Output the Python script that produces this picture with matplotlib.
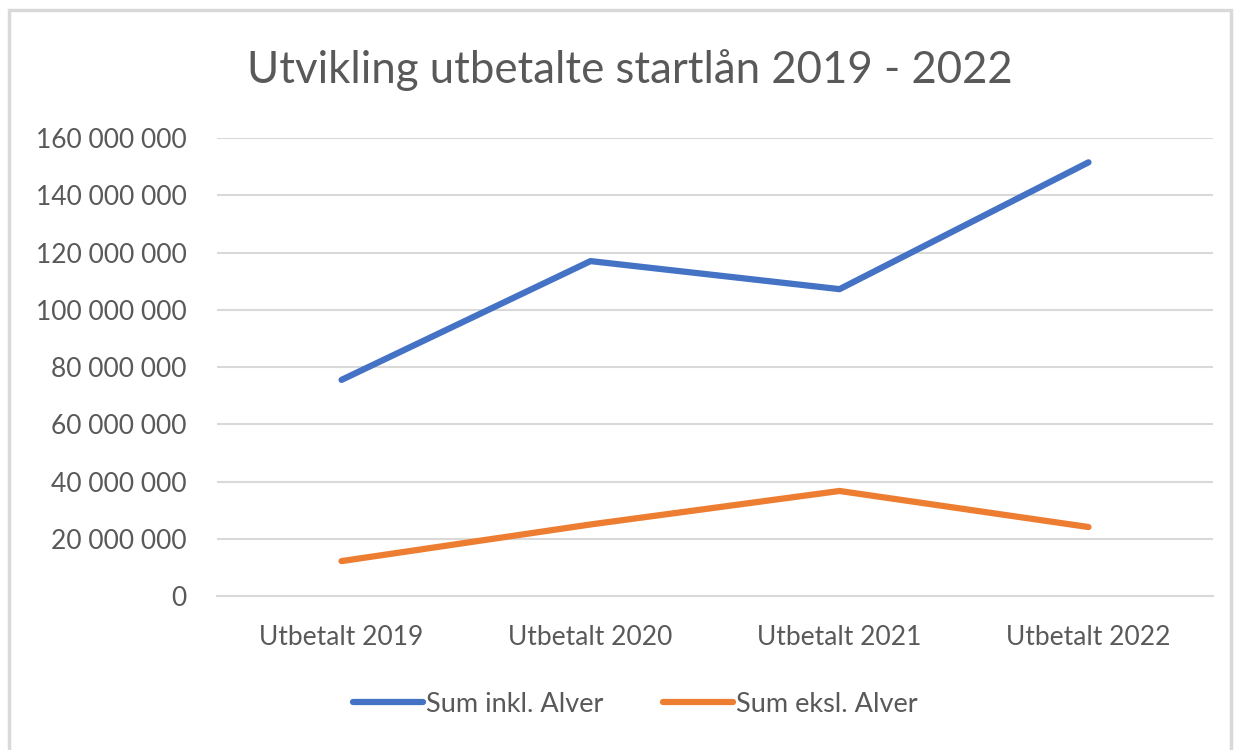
import matplotlib.pyplot as plt
from matplotlib.patches import Rectangle
from matplotlib.ticker import FuncFormatter

plt.rcParams['font.family'] = ['Lato', 'DejaVu Sans']

# data
kategorier = ['Utbetalt 2019', 'Utbetalt 2020', 'Utbetalt 2021', 'Utbetalt 2022']
sum_inkl_alver = [75500000, 117000000, 107200000, 151500000]
sum_eksl_alver = [12200000, 25000000, 36700000, 24100000]

blaa = '#4472C4'
oransje = '#ED7D31'
tekst = '#595959'

fig = plt.figure(figsize=(12.38, 7.5), dpi=100)
ax = fig.add_axes([0.1753, 0.2053, 0.8045, 0.6107])

x = range(len(kategorier))
ax.plot(x, sum_inkl_alver, color=blaa, lw=4.5, solid_capstyle='round',
        solid_joinstyle='round', label='Sum inkl. Alver')
ax.plot(x, sum_eksl_alver, color=oransje, lw=4.5, solid_capstyle='round',
        solid_joinstyle='round', label='Sum eksl. Alver')

ax.set_xlim(-0.5, len(kategorier) - 0.5)
ax.set_ylim(0, 160000000)
ax.set_yticks(range(0, 160000001, 20000000))
ax.yaxis.set_major_formatter(FuncFormatter(lambda v, p: f'{int(v):,}'.replace(',', ' ')))
ax.set_xticks(list(x))
ax.set_xticklabels(kategorier)

ax.grid(axis='y', color='#D9D9D9', lw=1.5)
ax.set_axisbelow(True)
for s in ax.spines.values():
    s.set_visible(False)
ax.spines['bottom'].set_visible(True)
ax.spines['bottom'].set_color('#D9D9D9')
ax.spines['bottom'].set_linewidth(1.5)
ax.tick_params(length=0, labelcolor=tekst)
ax.tick_params(axis='y', labelsize=19, pad=22)
ax.tick_params(axis='x', labelsize=19, pad=21)

fig.text(0.509, 0.907, 'Utvikling utbetalte startlån 2019 - 2022',
         ha='center', va='center', fontsize=31.5, color=tekst)

leg = fig.legend(loc='center', bbox_to_anchor=(0.513, 0.061), ncol=2, frameon=False,
                 fontsize=19.5, handlelength=2.6, handletextpad=0.1, columnspacing=2.2)
for t in leg.get_texts():
    t.set_color(tekst)

# chart border
fig.patches.append(Rectangle((9 / 1238, -0.05), 1222 / 1238, 1.05 - 10 / 750,
                             transform=fig.transFigure, fill=False,
                             edgecolor='#D9D9D9', lw=2.5))

fig.savefig('out.png', dpi=100)
